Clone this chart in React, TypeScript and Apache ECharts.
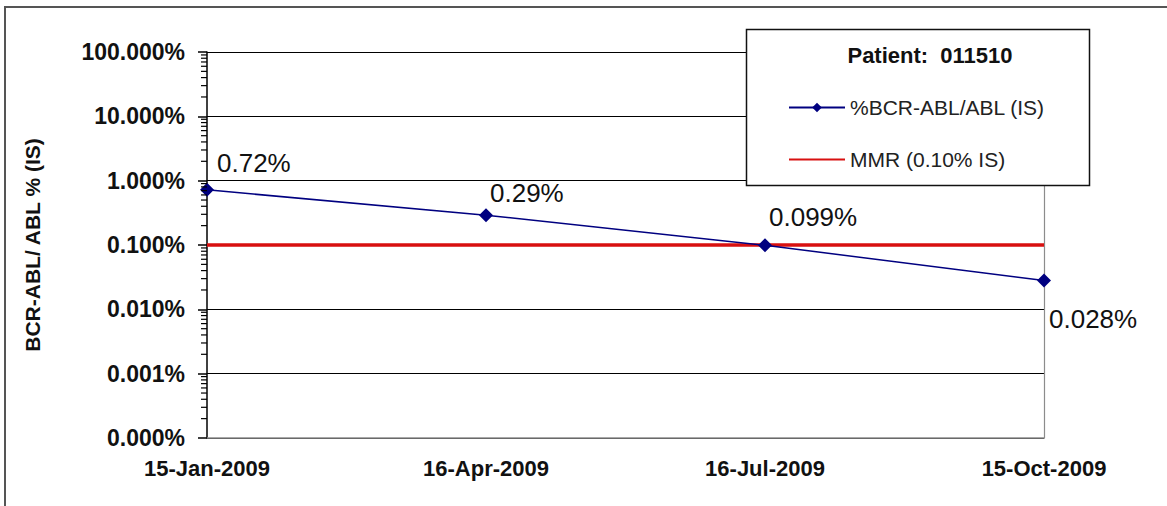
import React, { useEffect, useRef } from "react";
import * as echarts from "echarts";

const categories = ["15-Jan-2009", "16-Apr-2009", "16-Jul-2009", "15-Oct-2009"];
const bcrAblValues = [0.72, 0.29, 0.099, 0.028];
const dataLabels = ["0.72%", "0.29%", "0.099%", "0.028%"];
const mmrValues = [0.1, 0.1, 0.1, 0.1];
const legendTitle = "Patient:  011510";
const seriesNames = ["%BCR-ABL/ABL (IS)", "MMR (0.10% IS)"];
const yAxisTitle = "BCR-ABL/ ABL % (IS)";
const yMin = 0.0001;
const yMax = 100;

// label placement (styling only)
const labelOffsets: [number, number][] = [
  [3, -27],
  [-3, -22],
  [-3, -28],
  [-2, 38],
];

const FONT = "Arial, 'Liberation Sans', sans-serif";

export default function App() {
  const ref = useRef<HTMLDivElement>(null);
  useEffect(() => {
    if (!ref.current) return;
    const chart = echarts.init(ref.current, undefined, { renderer: "svg" });

    // log-distributed minor tick positions (axis decoration)
    const minorTicks: [number, number][] = [];
    for (let d = yMin; d < yMax * 0.99; d *= 10) {
      for (let m = 2; m <= 9; m++) minorTicks.push([0, d * m]);
    }

    chart.setOption({
      animation: false,
      backgroundColor: "#ffffff",
      textStyle: { fontFamily: FONT },
      grid: { left: 207, right: 123, top: 52, bottom: 68, containLabel: false },
      xAxis: {
        type: "category",
        data: categories,
        boundaryGap: false,
        axisLine: { lineStyle: { color: "#8c8c8c", width: 1.5 } },
        axisTick: { show: false },
        splitLine: { show: false },
        axisLabel: {
          color: "#111",
          fontWeight: "bold",
          fontSize: 22,
          fontFamily: FONT,
          margin: 19,
        },
      },
      yAxis: [
        {
          type: "log",
          logBase: 10,
          min: yMin,
          max: yMax,
          name: yAxisTitle,
          nameLocation: "middle",
          nameRotate: 90,
          nameGap: 164,
          nameTextStyle: { color: "#111", fontWeight: "bold", fontSize: 21, fontFamily: FONT },
          axisLine: { show: true, lineStyle: { color: "#000", width: 1.5 } },
          axisTick: { show: true, length: 9, lineStyle: { color: "#000", width: 1.5 } },
          splitLine: { show: true, lineStyle: { color: "#000", width: 1.2 } },
          axisLabel: {
            color: "#111",
            fontWeight: "bold",
            fontSize: 23,
            fontFamily: FONT,
            margin: 22,
            formatter: (v: number) => v.toFixed(3) + "%",
          },
        },
        {
          type: "log",
          logBase: 10,
          min: yMin,
          max: yMax,
          position: "right",
          axisLine: { show: true, lineStyle: { color: "#8c8c8c", width: 1.2 } },
          axisTick: { show: false },
          axisLabel: { show: false },
          splitLine: { show: false },
        },
      ],
      legend: {
        data: [
          { name: seriesNames[0] },
          {
            name: seriesNames[1],
            icon: "path://M0,4.2 H100 V7.8 H0 Z M0,0 H0.01 V12 H0 Z",
          },
        ],
        orient: "vertical",
        left: 783,
        top: 92,
        itemWidth: 56,
        itemHeight: 12,
        itemGap: 31,
        z: 20,
        textStyle: { color: "#222", fontSize: 21, fontFamily: FONT },
      },
      graphic: [
        {
          type: "rect",
          z: 15,
          shape: { x: 5, y: 7, width: 1300, height: 700 },
          style: { fill: "none", stroke: "#555", lineWidth: 2 },
        },
        {
          type: "rect",
          z: 15,
          shape: { x: 746.5, y: 29.5, width: 343, height: 156 },
          style: { fill: "#fff", stroke: "#111", lineWidth: 1.5 },
        },
        {
          type: "text",
          z: 20,
          x: 930,
          y: 55,
          style: {
            text: legendTitle,
            fill: "#111",
            font: `bold 22px ${FONT}`,
            textAlign: "center",
            textVerticalAlign: "middle",
          },
        },
      ],
      series: [
        {
          name: seriesNames[1],
          type: "line",
          data: mmrValues,
          symbol: "none",
          lineStyle: { color: "#d81010", width: 3.5 },
          itemStyle: { color: "#d81010" },
          z: 3,
        },
        {
          name: seriesNames[0],
          type: "line",
          data: bcrAblValues.map((v, i) => ({
            value: v,
            label: { offset: labelOffsets[i] },
          })),
          symbol: "diamond",
          symbolSize: 14,
          lineStyle: { color: "#000080", width: 1.5 },
          itemStyle: { color: "#000080" },
          z: 4,
          label: {
            show: true,
            position: "right",
            distance: 0,
            color: "#111",
            fontSize: 26,
            fontFamily: FONT,
            formatter: (p: any) => dataLabels[p.dataIndex],
          },
        },
        {
          name: "minorTicks",
          type: "custom",
          data: minorTicks,
          silent: true,
          clip: false,
          z: 5,
          renderItem: (params: any, api: any) => {
            const p = api.coord([api.value(0), api.value(1)]);
            return {
              type: "line",
              shape: { x1: p[0] - 6, y1: p[1], x2: p[0], y2: p[1] },
              style: { stroke: "#000", lineWidth: 1.2 },
            };
          },
        },
      ],
    });
    return () => chart.dispose();
  }, []);
  return (
    <div
      ref={ref}
      style={{ position: "fixed", left: 0, top: 0, width: 1167, height: 506 }}
    />
  );
}
